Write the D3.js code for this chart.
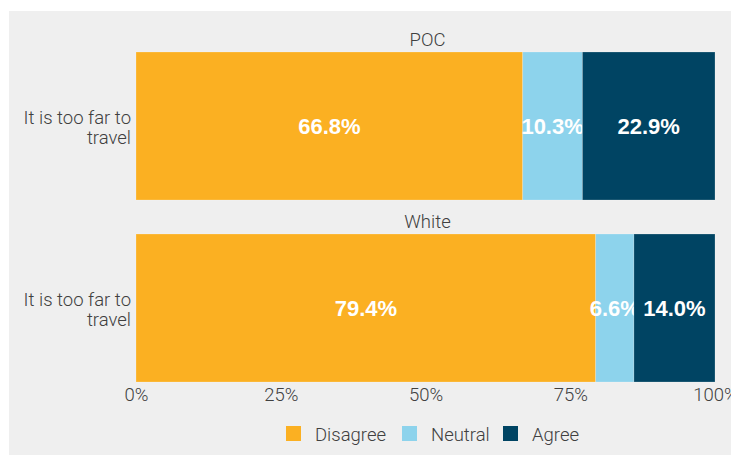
<!DOCTYPE html>
<html>
<head>
<meta charset="utf-8">
<script src="https://cdn.jsdelivr.net/npm/d3@7"></script>
<style>
  body { margin: 0; background: #fff; }
  svg { display: block; }
</style>
</head>
<body>
<div id="chart"></div>
<script>
// data
const groups = ['POC', 'White'];
const question = ['It is too far to', 'travel'];
const responses = ['Disagree', 'Neutral', 'Agree'];
const disagree = [66.8, 79.4];
const neutral = [10.3, 6.6];
const agree = [22.9, 14.0];
const tickValues = [0, 25, 50, 75, 100];

const colors = ['#fbb022', '#8dd3ec', '#004463'];
const width = 735, height = 455;
const font = 'Roboto, "Liberation Sans", sans-serif';
const fs = 18.5;

const svg = d3.select('#chart')
  .append('svg')
  .attr('width', width)
  .attr('height', height)
  .attr('font-family', font);

// panel background, everything is clipped to it
svg.append('clipPath')
  .attr('id', 'panel-clip')
  .append('rect')
  .attr('x', 9).attr('y', 11)
  .attr('width', 722).attr('height', 444);

const root = svg.append('g').attr('clip-path', 'url(#panel-clip)');

root.append('rect')
  .attr('x', 9).attr('y', 11)
  .attr('width', 722).attr('height', 444)
  .attr('fill', '#efefef');

const x = d3.scaleLinear().domain([0, 100]).range([136, 715]);

const rows = groups.map((g, i) => ({
  group: g,
  Disagree: disagree[i],
  Neutral: neutral[i],
  Agree: agree[i]
}));
const stacked = d3.stack().keys(responses)(rows);

const panelTop = [52, 234];
const barH = 148;

// panel titles
root.selectAll('.title')
  .data(groups)
  .join('text')
  .attr('class', 'title')
  .attr('x', (x(0) + x(100)) / 2 + 2)
  .attr('y', (d, i) => panelTop[i] - 6)
  .attr('text-anchor', 'middle')
  .attr('font-size', fs)
  .attr('font-weight', 300)
  .attr('fill', '#404040')
  .text(d => d);

// category labels
groups.forEach((g, i) => {
  const t = root.append('text')
    .attr('text-anchor', 'end')
    .attr('font-size', fs)
    .attr('font-weight', 300)
    .attr('fill', '#404040');
  question.forEach((line, j) => {
    t.append('tspan')
      .attr('x', 131)
      .attr('y', panelTop[i] + 72 + j * 20)
      .text(line);
  });
});

// stacked segments
const layer = root.selectAll('.layer')
  .data(stacked)
  .join('g')
  .attr('class', 'layer')
  .attr('fill', (d, i) => colors[i]);

layer.selectAll('rect')
  .data(d => d)
  .join('rect')
  .attr('x', d => x(d[0]))
  .attr('y', (d, i) => panelTop[i])
  .attr('width', d => x(d[1]) - x(d[0]))
  .attr('height', barH)
  .attr('stroke', '#ffffff')
  .attr('stroke-opacity', 0.35)
  .attr('stroke-width', 0.6);

layer.selectAll('text')
  .data(d => d)
  .join('text')
  .attr('x', d => (x(d[0]) + x(d[1])) / 2)
  .attr('y', (d, i) => panelTop[i] + barH / 2)
  .attr('dy', '0.36em')
  .attr('text-anchor', 'middle')
  .attr('font-size', 22)
  .attr('font-weight', 'bold')
  .attr('font-family', '"Liberation Sans", Arial, sans-serif')
  .attr('fill', '#fff')
  .text(d => (d[1] - d[0]).toFixed(1) + '%');

// x axis
const axis = root.append('g')
  .attr('transform', `translate(0,${panelTop[1] + barH})`)
  .call(d3.axisBottom(x).tickValues(tickValues).tickSize(0).tickPadding(6).tickFormat(d => d + '%'));
axis.select('.domain').remove();
axis.selectAll('text')
  .attr('font-size', fs)
  .attr('font-weight', 300)
  .attr('font-family', font)
  .attr('fill', '#404040');

// legend
const legendX = [286, 402, 503];
const legend = root.selectAll('.legend')
  .data(responses)
  .join('g')
  .attr('class', 'legend')
  .attr('transform', (d, i) => `translate(${legendX[i]},426)`);
legend.append('rect')
  .attr('width', 15).attr('height', 15)
  .attr('fill', (d, i) => colors[i]);
legend.append('text')
  .attr('x', 29).attr('y', 8)
  .attr('dy', '0.36em')
  .attr('font-size', fs)
  .attr('font-weight', 300)
  .attr('fill', '#404040')
  .text(d => d);
</script>
</body>
</html>
